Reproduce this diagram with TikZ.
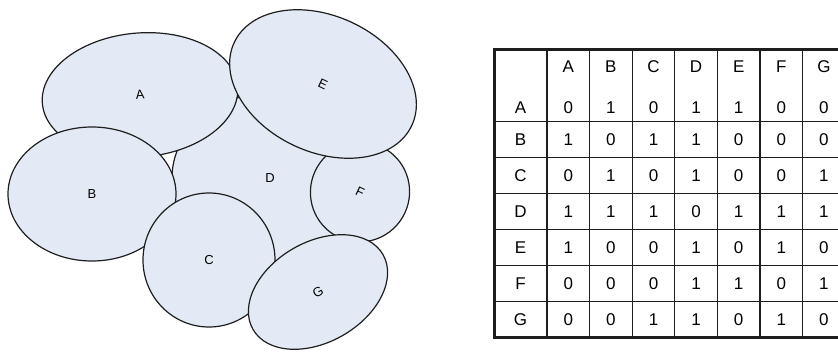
\documentclass[tikz,border=0pt]{standalone}
\usepackage{fontspec}
\setmainfont{Liberation Sans}
\usepackage{tikz}
\usetikzlibrary{shapes.geometric,matrix,positioning}

\definecolor{mapfill}{RGB}{228,234,245}
\definecolor{mapline}{RGB}{30,30,30}

\tikzset{
  region/.style={ellipse, draw=mapline, line width=1.2pt, fill=mapfill, inner sep=0pt, outer sep=0pt, font=\fontsize{13}{15}\selectfont},
  cell/.style={anchor=center, minimum width=42.6pt, minimum height=36.1pt, inner sep=0pt, outer sep=0pt, font=\fontsize{17}{20}\selectfont},
  gridline/.style={line width=1.2pt, mapline},
  frameline/.style={line width=3pt, mapline}
}

\begin{document}
\begin{tikzpicture}[x=1pt,y=-1pt]
    \useasboundingbox (0,0) rectangle (838,351);
    \clip (0,0) rectangle (838,351);

    % Map of the regions (lower ones first)
    \node[region, minimum width=196pt, minimum height=170pt] (regionD) at (270,178) {D};
    \node[region, minimum width=196pt, minimum height=124pt, rotate=5] (regionA) at (140,95) {A};
    \node[region, minimum width=168pt, minimum height=134pt] (regionB) at (92,194) {B};
    \node[region, minimum width=132pt, minimum height=134pt] (regionC) at (209,260) {C};
    \node[region, minimum width=99pt, minimum height=100pt, rotate=-25] (regionF) at (360,192) {F};
    \node[region, minimum width=196pt, minimum height=136pt, rotate=-25] (regionE) at (323,84) {E};
    \node[region, minimum width=150pt, minimum height=100pt, rotate=30] (regionG) at (318,292) {G};

    % Adjacency table
    \matrix (adj) [matrix of nodes, nodes in empty cells, nodes=cell, anchor=north west,
        inner sep=0pt, outer sep=0pt, column sep=0pt, row sep=0pt,
        column 1/.style={nodes={minimum width=53pt}},
        row 2/.style={nodes={text height=20pt, text depth=0pt}}] at (494,49) {
         & A & B & C & D & E & F & G \\
        A & 0 & 1 & 0 & 1 & 1 & 0 & 0 \\
        B & 1 & 0 & 1 & 1 & 0 & 0 & 0 \\
        C & 0 & 1 & 0 & 1 & 0 & 0 & 1 \\
        D & 1 & 1 & 1 & 0 & 1 & 1 & 1 \\
        E & 1 & 0 & 0 & 1 & 0 & 1 & 0 \\
        F & 0 & 0 & 0 & 1 & 1 & 0 & 1 \\
        G & 0 & 0 & 1 & 1 & 0 & 1 & 0 \\
    };

    \foreach \c in {2,...,8}
        \draw[gridline] (adj-1-\c.north west) -- (adj-8-\c.south west);
    \foreach \r in {3,...,8}
        \draw[gridline] (adj-\r-1.north west) -- (adj-\r-8.north east);
    \draw[frameline] (adj-1-8.north east) -- (adj-1-1.north west) -- (adj-8-1.south west) -- (adj-8-8.south east);
\end{tikzpicture}
\end{document}
